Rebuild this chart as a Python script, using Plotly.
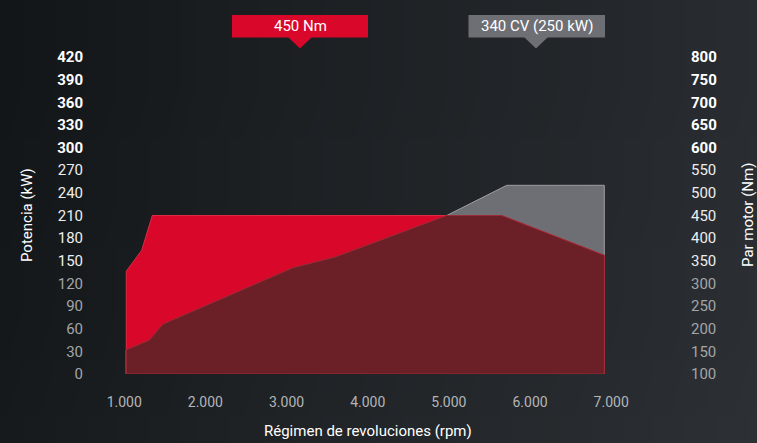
import base64
import struct
import zlib

import numpy as np
import plotly.graph_objects as go

# ---- data ----
rpm_power = [1025, 1309, 1474, 3083, 3597, 4973, 5713, 6915]
power_kw = [32, 45, 66, 141, 155, 210, 250, 250]

rpm_torque = [1025, 1215, 1346, 5651, 6915]
torque_nm = [327, 373, 450, 450, 362]

x_ticks = [1000, 2000, 3000, 4000, 5000, 6000, 7000]
x_tick_labels = ["1.000", "2.000", "3.000", "4.000", "5.000", "6.000", "7.000"]
kw_ticks = list(range(0, 421, 30))
nm_ticks = list(range(100, 801, 50))

label_torque = "450 Nm"
label_power = "340 CV (250 kW)"

# ---- layout constants ----
W, H = 757, 443
L, R, T, B = 100, 77, 57, 69
PW, PH = W - L - R, H - T - B
KW_RANGE = [0, 420]
NM_RANGE = [100, 800]
X_RANGE = [1000 + (L - 124.23) / 0.08116, 1000 + (W - R - 124.23) / 0.08116]

RED = "#d9072a"
MAROON = "#6b2027"
GREY = "#6e6f74"
BG = "#212427"
FONT = "Roboto"


def kw_to_nm(v):
    v = np.asarray(v, float)
    return (v - KW_RANGE[0]) / (KW_RANGE[1] - KW_RANGE[0]) * (NM_RANGE[1] - NM_RANGE[0]) + NM_RANGE[0]


def overlap(xa, ya, xb, yb):
    xs = np.union1d(xa, xb)
    a = np.interp(xs, xa, ya)
    b = np.interp(xs, xb, yb)
    ox, oy = [xs[0]], [min(a[0], b[0])]
    for i in range(1, len(xs)):
        d0, d1 = a[i - 1] - b[i - 1], a[i] - b[i]
        if d0 * d1 < 0:
            t = d0 / (d0 - d1)
            ox.append(xs[i - 1] + t * (xs[i] - xs[i - 1]))
            oy.append(a[i - 1] + t * (a[i] - a[i - 1]))
        ox.append(xs[i])
        oy.append(min(a[i], b[i]))
    return np.array(ox), np.array(oy)


def closed(x, y, base):
    x = list(x)
    y = list(y)
    return [x[0]] + x + [x[-1], x[0]], [base] + y + [base, base]


def style_tick(v, bold_from, white_from):
    if v >= bold_from:
        return f"<b>{v}</b>"
    if v >= white_from:
        return f"<span style='color:#eeeeee'>{v}</span>"
    return f"<span style='color:#a3a5a8'>{v}</span>"


def gradient_png(w, h):
    """Small dark backdrop image: darker on the left, lighter to the right."""
    stops = [(0.0, (22, 25, 28)), (0.35, (31, 34, 37)), (0.75, (38, 41, 45)), (1.0, (44, 48, 52))]
    rows = []
    for j in range(h):
        row = bytearray()
        for i in range(w):
            f = i / (w - 1)
            for k in range(len(stops) - 1):
                if stops[k][0] <= f <= stops[k + 1][0]:
                    t = (f - stops[k][0]) / (stops[k + 1][0] - stops[k][0])
                    c = [round(stops[k][1][n] + t * (stops[k + 1][1][n] - stops[k][1][n])) for n in range(3)]
                    break
            shade = -3 + 4 * j / (h - 1)
            row.extend(max(0, min(255, int(v + shade))) for v in c)
        rows.append(b"\x00" + bytes(row))

    def chunk(tag, data):
        return struct.pack(">I", len(data)) + tag + data + struct.pack(">I", zlib.crc32(tag + data) & 0xFFFFFFFF)

    png = (b"\x89PNG\r\n\x1a\n" + chunk(b"IHDR", struct.pack(">IIBBBBB", w, h, 8, 2, 0, 0, 0))
           + chunk(b"IDAT", zlib.compress(b"".join(rows))) + chunk(b"IEND", b""))
    return "data:image/png;base64," + base64.b64encode(png).decode()


fig = go.Figure()

# power area (grey where alone) on the kW axis
px_, py_ = closed(rpm_power, power_kw, KW_RANGE[0])
fig.add_trace(go.Scatter(x=px_, y=py_, fill="toself", fillcolor=GREY, mode="lines",
                         line=dict(color="#9c9da2", width=1), hoverinfo="skip", showlegend=False))

# torque area (red where alone) on the Nm axis
tx_, ty_ = closed(rpm_torque, torque_nm, NM_RANGE[0])
fig.add_trace(go.Scatter(x=tx_, y=ty_, yaxis="y2", fill="toself", fillcolor=RED, mode="lines",
                         line=dict(color="#e02a44", width=1), hoverinfo="skip", showlegend=False))

# overlap of both (dark maroon), expressed on the Nm axis
ox, oy = overlap(rpm_power, kw_to_nm(power_kw), rpm_torque, torque_nm)
cx, cy = closed(ox, oy, NM_RANGE[0])
fig.add_trace(go.Scatter(x=cx, y=cy, yaxis="y2", fill="toself", fillcolor=MAROON, mode="lines",
                         line=dict(color="#9a2c37", width=1), hoverinfo="skip", showlegend=False))


def pxx(p):
    return (p - L) / PW


def pxy(p):
    return (H - B - p) / PH


shapes = []
annotations = []
for text, color, x0, x1, apex in [(label_torque, RED, 232, 368, 300),
                                  (label_power, GREY, 468.5, 605, 536)]:
    shapes.append(dict(type="rect", xref="paper", yref="paper",
                       x0=pxx(x0), x1=pxx(x1), y0=pxy(37.5), y1=pxy(15),
                       fillcolor=color, line=dict(width=0), layer="above"))
    path = (f"M {pxx(apex - 12)},{pxy(37)} L {pxx(apex + 12)},{pxy(37)} "
            f"L {pxx(apex)},{pxy(48.5)} Z")
    shapes.append(dict(type="path", xref="paper", yref="paper", path=path,
                       fillcolor=color, line=dict(width=0), layer="above"))
    annotations.append(dict(xref="paper", yref="paper", x=pxx((x0 + x1) / 2), y=pxy(26.5),
                            text=text, showarrow=False, xanchor="center", yanchor="middle",
                            font=dict(family=FONT, size=15, color="#ffffff")))

annotations.append(dict(xref="paper", yref="paper", x=pxx(368), y=pxy(431),
                        text="Régimen de revoluciones (rpm)", showarrow=False,
                        xanchor="center", yanchor="middle",
                        font=dict(family=FONT, size=15, color="#ffffff")))
annotations.append(dict(xref="paper", yref="paper", x=pxx(27), y=pxy(215),
                        text="Potencia (kW)", showarrow=False, textangle=-90,
                        xanchor="center", yanchor="middle",
                        font=dict(family=FONT, size=15, color="#ffffff")))
annotations.append(dict(xref="paper", yref="paper", x=pxx(748), y=pxy(215),
                        text="Par motor (Nm)", showarrow=False, textangle=-90,
                        xanchor="center", yanchor="middle",
                        font=dict(family=FONT, size=15, color="#ffffff")))

fig.update_layout(
    width=W, height=H,
    margin=dict(l=L, r=R, t=T, b=B, pad=0),
    paper_bgcolor=BG, plot_bgcolor="rgba(0,0,0,0)",
    font=dict(family=FONT, color="#ffffff"),
    showlegend=False,
    shapes=shapes,
    annotations=annotations,
    images=[dict(source=gradient_png(48, 8), xref="paper", yref="paper",
                 x=pxx(0), y=pxy(0), sizex=W / PW, sizey=H / PH,
                 xanchor="left", yanchor="top", sizing="stretch", layer="below")],
    xaxis=dict(range=X_RANGE, tickvals=x_ticks, ticktext=x_tick_labels,
               showgrid=False, zeroline=False, showline=False, ticks="",
               ticklabelstandoff=18,
               tickfont=dict(family=FONT, size=14, color="#b3b5b8")),
    yaxis=dict(range=KW_RANGE, tickvals=kw_ticks,
               ticktext=[style_tick(v, 300, 150) for v in kw_ticks],
               showgrid=False, zeroline=False, showline=False, ticks="",
               ticklabelstandoff=16,
               tickfont=dict(family=FONT, size=15, color="#ffffff")),
    yaxis2=dict(range=NM_RANGE, tickvals=nm_ticks,
                ticktext=[style_tick(v, 600, 350) for v in nm_ticks],
                overlaying="y", side="right",
                showgrid=False, zeroline=False, showline=False, ticks="",
                ticklabelstandoff=10,
                tickfont=dict(family=FONT, size=15, color="#ffffff")),
)

fig.write_html("out.html", config={"displayModeBar": False},
               post_script=["document.body.style.margin='0';document.body.style.background='" + BG + "';"])
